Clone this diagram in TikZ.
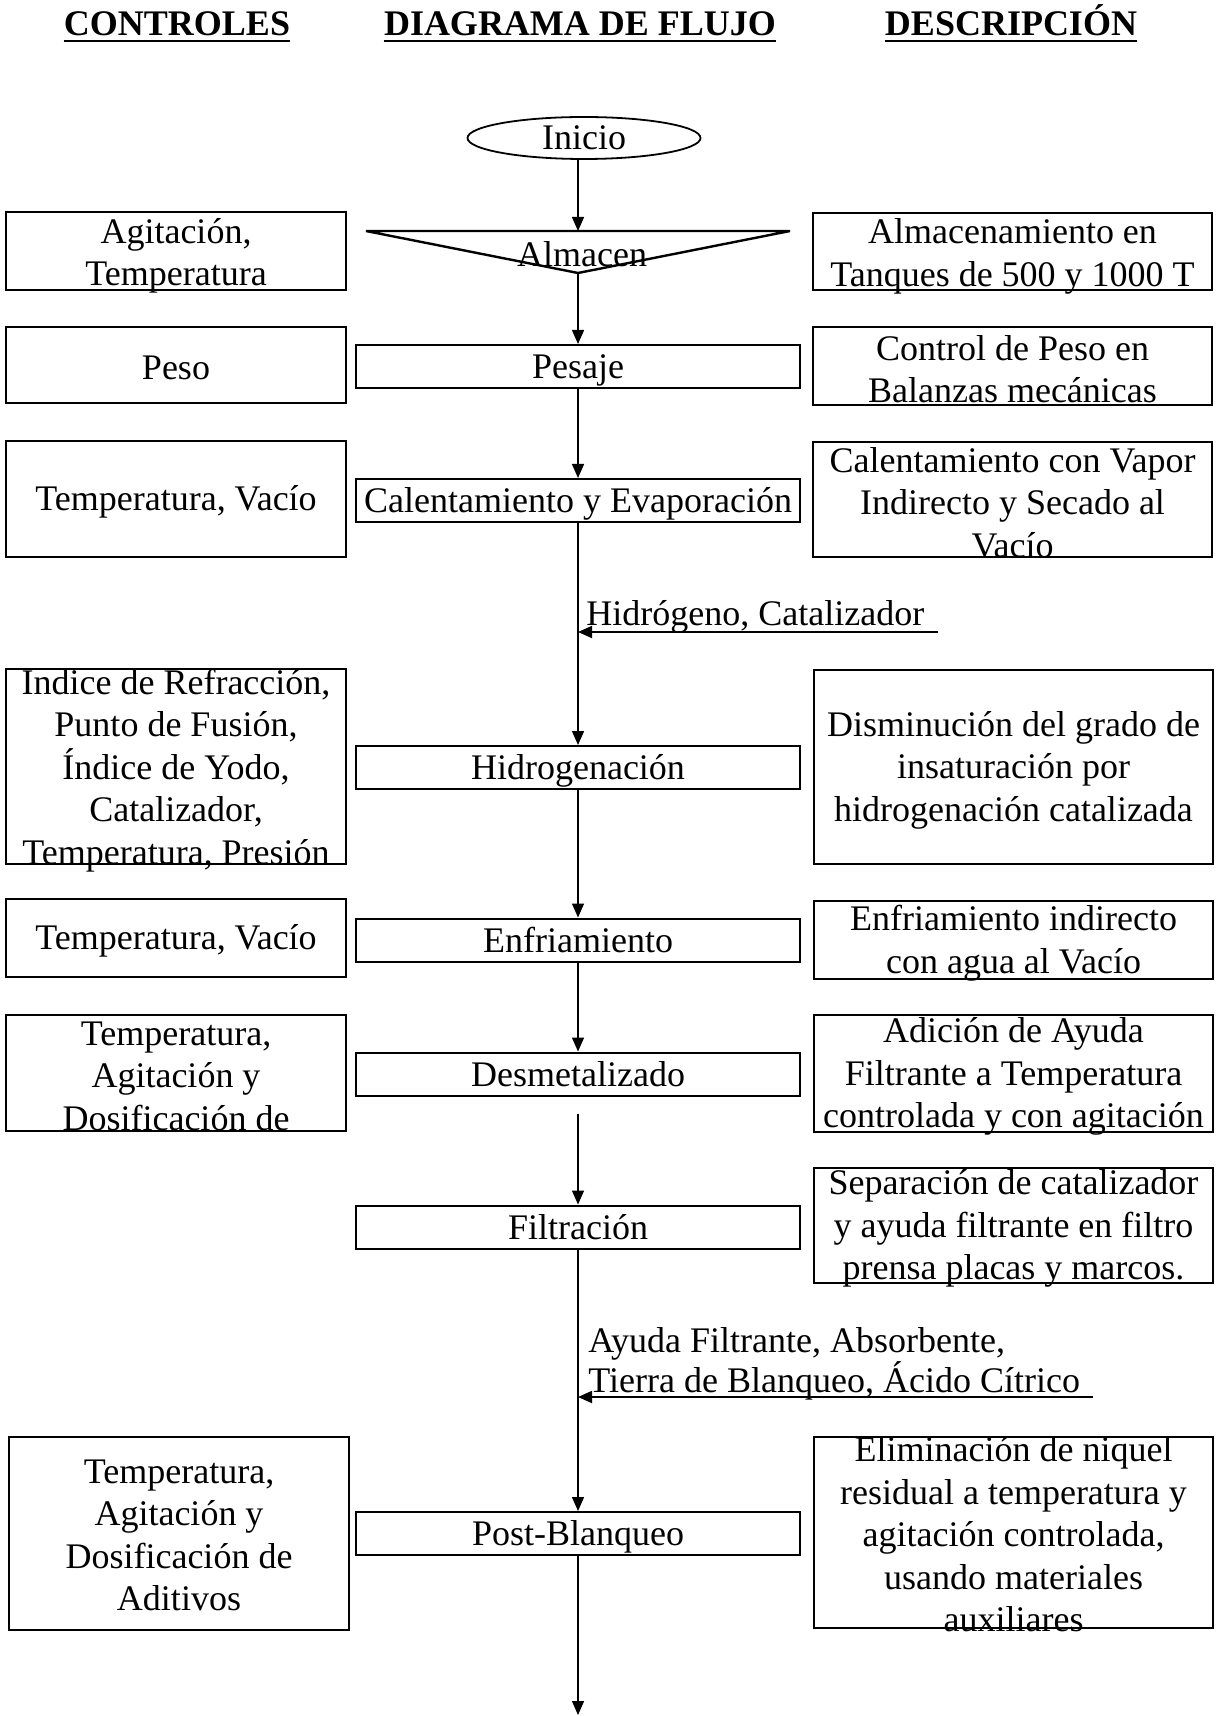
\documentclass[tikz,border=0pt]{standalone}
\usepackage{fontspec}
\setmainfont{Liberation Serif}
\usetikzlibrary{shapes.geometric,arrows.meta}
\begin{document}
\begin{tikzpicture}[x=0.5pt,y=-0.5pt]
\tikzset{
 hdr/.style={font=\fontsize{18}{21}\selectfont\bfseries, inner sep=0pt, anchor=base, text depth=0pt},
 txt/.style={font=\fontsize{18}{21.25}\selectfont, align=center, inner sep=0pt},
 lbl/.style={font=\fontsize{18}{19}\selectfont, align=left, inner sep=0pt, anchor=south west},
 side/.style={draw, line width=1.1pt, inner sep=0pt},
 lside/.style={side, minimum width=170pt},
 rside/.style={side, minimum width=199.5pt},
 flow/.style={draw, line width=1pt, minimum width=222pt, minimum height=21.5pt, inner sep=1pt,
   text height=14pt, text depth=2pt, font=\fontsize{18}{21.25}\selectfont},
 arr/.style={line width=0.7pt, -{Triangle[length=7pt,width=6pt]}},
 inarr/.style={line width=0.9pt, -{Triangle[length=7pt,width=6pt]}},
}
\useasboundingbox (0,0) rectangle (1220,1716);

% headers
\node[hdr] (hc) at (177,36) {CONTROLES};
\node[hdr] (hd) at (580,36) {DIAGRAMA DE FLUJO};
\node[hdr] (hde) at (1011,36) {DESCRIPCIÓN};
\foreach \n in {hc,hd,hde}
  \draw[line width=1.1pt] ([yshift=-2.5pt]\n.south west) -- ([yshift=-2.5pt]\n.south east);

% flow column
\node[draw, ellipse, line width=0.9pt, minimum width=116.5pt, minimum height=21pt, inner sep=0pt,
      font=\fontsize{18}{21.25}\selectfont] (ini) at (584,138) {Inicio};
\coordinate (almL) at (366,231);
\coordinate (almR) at (790,231);
\coordinate (almT) at (578,231);
\coordinate (almB) at (578,273);
\draw[line width=1.2pt, line join=miter] (almL) -- (almR) -- (almB) -- cycle;
\node[txt, anchor=base] (almt) at (582,267) {Almacen};

\node[flow] (pes) at (578,366.5) {Pesaje};
\node[flow] (cal) at (578,500.5) {Calentamiento y Evaporación};
\node[flow] (hid) at (578,767.5) {Hidrogenación};
\node[flow] (enf) at (578,940) {Enfriamiento};
\node[flow] (des) at (578,1074) {Desmetalizado};
\node[flow] (fil) at (578,1227) {Filtración};
\node[flow] (pbl) at (578,1533.5) {Post-Blanqueo};
\coordinate (fin) at (578,1715);

\draw[arr] (ini.south -| almT) -- (almT);
\draw[arr] (almB) -- (pes.north);
\draw[arr] (pes) -- (cal);
\draw[arr] (cal) -- (hid);
\draw[arr] (hid) -- (enf);
\draw[arr] (enf) -- (des);
\draw[arr, shorten <=8.5pt] (des) -- (fil);
\draw[arr] (fil) -- (pbl);
\draw[arr] (pbl) -- (fin);

% inputs
\coordinate (hin) at (938,632);
\draw[inarr] (hin) -- (hin -| cal);
\node[lbl] (hlab) at (586,634) {Hidrógeno, Catalizador};
\coordinate (ain) at (1093,1397);
\draw[inarr] (ain) -- (ain -| fil);
\node[lbl] (alab) at (588,1401) {Ayuda Filtrante, Absorbente,\\Tierra de Blanqueo, Ácido Cítrico};

% left boxes
\node[lside, minimum height=39pt] (l1) at (176,251) {};
\node[lside, minimum height=38pt] (l2) at (176,365) {};
\node[lside, minimum height=58pt] (l3) at (176,499) {};
\node[lside, minimum height=97.5pt] (l4) at (176,766.5) {};
\node[lside, minimum height=39pt] (l5) at (176,938) {};
\node[lside, minimum height=58pt] (l6) at (176,1073) {};
\node[lside, minimum height=96.5pt] (l7) at (179,1533.5) {};
\node[txt] (l1t) at ([yshift=-2.5pt]l1.center) {Agitación,\\Temperatura};
\node[txt] (l2t) at ([yshift=-1.5pt]l2.center) {Peso};
\node[txt] (l3t) at ([yshift=-1.5pt]l3.center) {Temperatura, Vacío};
\node[txt] (l4t) at ([yshift=-2pt]l4.center) {Indice de Refracción,\\Punto de Fusión,\\Índice de Yodo,\\Catalizador,\\Temperatura, Presión};
\node[txt] (l5t) at ([yshift=-1.5pt]l5.center) {Temperatura, Vacío};
\node[txt] (l6t) at ([yshift=-1.5pt]l6.center) {Temperatura,\\Agitación y\\Dosificación de};
\node[txt] (l7t) at ([yshift=-1pt]l7.center) {Temperatura,\\Agitación y\\Dosificación de\\Aditivos};

% right boxes
\node[rside, minimum height=38.5pt] (r1) at (1012.5,251.5) {};
\node[rside, minimum height=39pt] (r2) at (1012.5,366) {};
\node[rside, minimum height=57.5pt] (r3) at (1012.5,499.5) {};
\node[rside, minimum height=97pt] (r4) at (1013.5,767) {};
\node[rside, minimum height=39pt] (r5) at (1013.5,940) {};
\node[rside, minimum height=58.5pt] (r6) at (1013.5,1073.5) {};
\node[rside, minimum height=57.5pt] (r7) at (1013.5,1225.5) {};
\node[rside, minimum height=95.5pt] (r8) at (1013.5,1532.5) {};
\node[txt] (r1t) at ([yshift=-2.5pt]r1.center) {Almacenamiento en\\Tanques de 500 y 1000 T};
\node[txt] (r2t) at ([yshift=-1.5pt]r2.center) {Control de Peso en\\Balanzas mecánicas};
\node[txt] (r3t) at ([yshift=-1.5pt]r3.center) {Calentamiento con Vapor\\Indirecto y Secado al\\Vacío};
\node[txt] (r4t) at ([yshift=-1.5pt]r4.center) {Disminución del grado de\\insaturación por\\hidrogenación catalizada};
\node[txt] (r5t) at ([yshift=-1.5pt]r5.center) {Enfriamiento indirecto\\con agua al Vacío};
\node[txt] (r6t) at ([yshift=-1.5pt]r6.center) {Adición de Ayuda\\Filtrante a Temperatura\\controlada y con agitación};
\node[txt] (r7t) at ([yshift=-1.5pt]r7.center) {Separación de catalizador\\y ayuda filtrante en filtro\\prensa placas y marcos.};
\node[txt] (r8t) at ([yshift=-1pt]r8.center) {Eliminación de niquel\\residual a temperatura y\\agitación controlada,\\usando materiales\\auxiliares};
\end{tikzpicture}
\end{document}
